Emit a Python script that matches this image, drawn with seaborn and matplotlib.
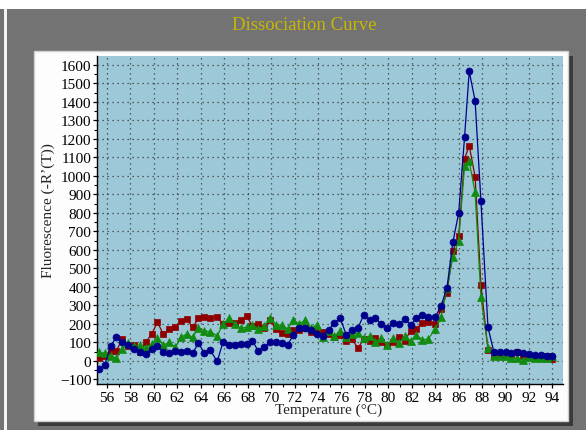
import matplotlib
matplotlib.use("Agg")
import matplotlib.pyplot as plt
from matplotlib.patches import Rectangle
from matplotlib.ticker import MultipleLocator
import seaborn as sns
import pandas as pd

# Melt-curve samples (temperature in degrees C)
temperature = [55.3, 55.8, 56.3, 56.8, 57.3, 57.8, 58.3, 58.8, 59.3, 59.8,
               60.3, 60.8, 61.3, 61.8, 62.3, 62.8, 63.3, 63.8, 64.3, 64.8,
               65.4, 65.9, 66.4, 66.9, 67.4, 67.9, 68.4, 68.9, 69.4, 69.9,
               70.4, 70.9, 71.4, 71.9, 72.4, 72.9, 73.4, 73.9, 74.4, 74.9,
               75.4, 75.9, 76.4, 76.9, 77.4, 77.9, 78.4, 78.9, 79.4, 79.9,
               80.4, 80.9, 81.4, 81.9, 82.4, 82.9, 83.4, 84.0, 84.5, 85.0,
               85.5, 86.0, 86.5, 86.9, 87.4, 87.9, 88.5, 89.0, 89.5, 90.0,
               90.5, 91.0, 91.5, 92.0, 92.5, 93.0, 93.5, 94.0]

well_blue = [-44, -23, 78, 130, 100, 85, 64, 46, 37, 64,
             78, 49, 40, 53, 49, 53, 40, 98, 40, 58,
             -3, 103, 85, 85, 91, 91, 109, 53, 73, 100,
             103, 95, 85, 141, 180, 180, 165, 145, 132, 168,
             206, 230, 142, 168, 177, 248, 222, 231, 197, 179,
             203, 197, 226, 194, 231, 249, 238, 237, 298, 395,
             640, 799, 1208, 1565, 1406, 862, 181, 49, 46, 46,
             42, 49, 45, 37, 31, 31, 28, 24]

well_red = [14, 28, 55, 55, 118, 78, 85, 49, 100, 145,
            208, 145, 172, 181, 217, 226, 181, 230, 238, 233,
            238, 199, 203, 204, 221, 244, 186, 199, 176, 222,
            172, 149, 145, 168, 166, 176, 154, 154, 154, 145,
            130, 139, 109, 118, 68, 118, 109, 122, 100, 87,
            103, 127, 109, 163, 172, 204, 208, 201, 280, 366,
            595, 673, 1093, 1163, 995, 410, 60, 24, 28, 24,
            37, 46, 28, 24, 19, 28, 24, 10]

well_green = [46, 42, 24, 14, 64, 96, 78, 85, 72, 91,
              122, 85, 100, 73, 127, 145, 127, 176, 163, 157,
              136, 199, 231, 199, 177, 181, 194, 172, 186, 231,
              194, 194, 172, 221, 199, 221, 177, 194, 127, 163,
              133, 163, 127, 145, 150, 122, 132, 103, 122, 85,
              122, 96, 132, 109, 139, 114, 118, 172, 235, 392,
              559, 650, 1051, 1079, 910, 343, 70, 24, 24, 28,
              14, 14, 6, 19, 14, 14, 14, 24]

sns.set_style("ticks")
plt.rcParams["font.family"] = ["Liberation Serif", "DejaVu Serif"]
plt.rcParams["axes.unicode_minus"] = True

W, H = 586, 431
fig = plt.figure(figsize=(W / 100, H / 100), dpi=100, facecolor="#737373")


def box(x0, y0, x1, y1, z, **kw):
    """Rectangle given in pixel coordinates measured from the top-left."""
    fig.patches.append(Rectangle((x0 / W, 1 - y1 / H), (x1 - x0) / W, (y1 - y0) / H,
                                 transform=fig.transFigure, figure=fig, zorder=z, **kw))


# window frame
box(0, 0, W, 10, -5, facecolor="white", edgecolor="none")
box(3.5, 10, 7, H, -5, facecolor="#f4f4f4", edgecolor="none")
# drop shadow and plot panel
box(38, 57, 573, 427, -4, facecolor="#3a3a3a", edgecolor="none")
box(34, 52, 568, 422, -3, facecolor="#fdfdfd", edgecolor="#cfcfcf", linewidth=1)

fig.text(304 / W, 1 - 26 / H, "Dissociation Curve", color="#c9b700",
         fontsize=13.5, ha="center", va="center")

ax = fig.add_axes([96.5 / W, 1 - 385 / H, (563 - 96.5) / W, (385 - 57.3) / H])
ax.set_facecolor("#9dc8d7")

df = pd.DataFrame({"Temperature": temperature, "blue": well_blue,
                   "red": well_red, "green": well_green})

series = [("red", "#8e0000", "s", 4.6),
          ("green", "#118c11", "^", 5.2),
          ("blue", "#00008c", "o", 5.0)]
for col, colour, mk, ms in series:
    sns.lineplot(data=df, x="Temperature", y=col, ax=ax, color=colour,
                 linewidth=0.9, marker=mk, markersize=ms,
                 markeredgecolor=colour, markeredgewidth=0.5, zorder=3)

ax.set_xlim(55.1, 94.9)
ax.set_ylim(-125, 1646)
ax.xaxis.set_major_locator(MultipleLocator(2))
ax.xaxis.set_minor_locator(MultipleLocator(1))
ax.yaxis.set_major_locator(MultipleLocator(100))
ax.yaxis.set_minor_locator(MultipleLocator(50))

ax.grid(True, which="major", color="#3a3a3a", linestyle=(0, (1, 3)), linewidth=0.9)
ax.set_axisbelow(True)

for s in ("top", "right"):
    ax.spines[s].set_visible(False)
for s in ("left", "bottom"):
    ax.spines[s].set_color("black")
    ax.spines[s].set_linewidth(1.0)

ax.tick_params(which="major", direction="out", length=3.2, width=0.9,
               colors="black", labelsize=11)
ax.tick_params(which="minor", direction="out", length=2.0, width=0.8, colors="black")
ax.tick_params(axis="y", which="major", pad=0.5)
ax.tick_params(axis="x", which="major", pad=1.5)

ax.set_xlabel("")
ax.set_ylabel("")
fig.text(329 / W, 1 - 410 / H, "Temperature (°C)", fontsize=11,
         ha="center", va="center")
fig.text(48 / W, 1 - 211 / H, "Fluorescence (-R\u2019(T))", fontsize=11,
         ha="center", va="center", rotation=90)

fig.savefig("out.png", dpi=100, facecolor=fig.get_facecolor())
